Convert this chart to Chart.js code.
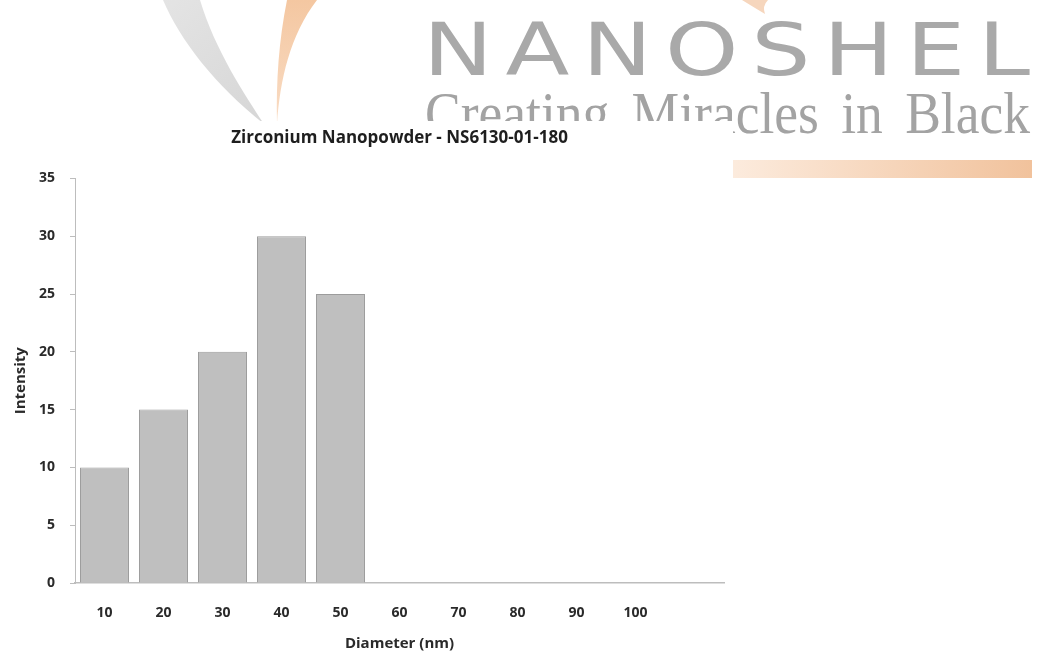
<!DOCTYPE html>
<html>
<head>
<meta charset="utf-8">
<script src="https://cdn.jsdelivr.net/npm/chart.js@4.4.1/dist/chart.umd.min.js"></script>
<style>
  body { margin: 0; background: #fff; width: 1037px; height: 655px; overflow: hidden; position: relative; }
  #deco { position: absolute; left: 0; top: 0; }
  .logo { position: absolute; white-space: nowrap; line-height: 1; transform-origin: 0 0; }
  #brand { left: 423px; top: 13px; font-family: "DejaVu Sans"; font-size: 73px; color: #a9a9a9; letter-spacing: 10px; }
  #motto { left: 425px; top: 83px; font-family: "Liberation Serif"; font-size: 60px; color: #a3a3a3; word-spacing: 10px; }
  #plot { position: absolute; left: 0; top: 121px; width: 733px; height: 534px; background: #fff; }
</style>
</head>
<body>
<canvas id="deco" width="1037" height="655"></canvas>
<div id="brand" class="logo">NANOSHEL</div>
<div id="motto" class="logo">Creating Miracles in Black</div>
<div id="plot"><canvas id="chart" width="733" height="534"></canvas></div>

<script>
// size distribution
const diameters = ['10', '20', '30', '40', '50', '60', '70', '80', '90', '100', ''];
const intensity = [10, 15, 20, 30, 25, 0, 0, 0, 0, 0, null];
const yMin = 0, yMax = 35, yStep = 5;

const chartTitle = 'Zirconium Nanopowder - NS6130-01-180';
const xTitle = 'Diameter (nm)';
const yTitle = 'Intensity';

// letterhead behind the chart
function drawDeco() {
  const c = document.getElementById('deco').getContext('2d');

  // grey swoosh
  let g = c.createLinearGradient(160, 0, 270, 120);
  g.addColorStop(0, '#e4e4e4');
  g.addColorStop(1, '#d6d6d6');
  c.fillStyle = g;
  c.beginPath();
  c.moveTo(163, 0);
  c.bezierCurveTo(180, 40, 215, 85, 264, 124);
  c.bezierCurveTo(245, 95, 215, 50, 200, 0);
  c.closePath();
  c.fill();

  // peach swoosh
  g = c.createLinearGradient(0, 0, 0, 124);
  g.addColorStop(0, '#f4c7a1');
  g.addColorStop(1, '#f9dcc4');
  c.fillStyle = g;
  c.beginPath();
  c.moveTo(287, 0);
  c.bezierCurveTo(279, 40, 276, 80, 277, 124);
  c.bezierCurveTo(280, 80, 290, 35, 317, 0);
  c.closePath();
  c.fill();

  // small arc top right
  c.fillStyle = '#f6d6bd';
  c.beginPath();
  c.moveTo(742, 0);
  c.quadraticCurveTo(755, 8, 765, 14);
  c.quadraticCurveTo(762, 6, 768, 0);
  c.closePath();
  c.fill();

  // bar under the motto
  g = c.createLinearGradient(733, 0, 1032, 0);
  g.addColorStop(0, '#fcebdd');
  g.addColorStop(1, '#f1c29c');
  c.fillStyle = g;
  c.fillRect(733, 160, 299, 18);
}

// stretch the letterhead text across its band
function fitLogo() {
  const brand = document.getElementById('brand');
  const bw = brand.getBoundingClientRect().width - 10;
  brand.style.transform = 'scaleX(' + (607 / bw) + ')';

  const motto = document.getElementById('motto');
  const mw = motto.getBoundingClientRect().width;
  motto.style.transform = 'scaleX(' + (605 / mw) + ')';
}

drawDeco();
fitLogo();

const tickFont = { family: 'Open Sans', size: 14, weight: 'bold' };
const titleFont = { family: 'Open Sans', size: 15, weight: 'bold' };

new Chart(document.getElementById('chart'), {
  type: 'bar',
  data: {
    labels: diameters,
    datasets: [{
      data: intensity,
      backgroundColor: '#bfbfbf',
      borderColor: '#9c9c9c',
      borderWidth: 1,
      categoryPercentage: 1,
      barPercentage: 0.83
    }]
  },
  options: {
    responsive: false,
    animation: false,
    layout: { padding: { left: 0, right: 9, top: 0, bottom: 0 } },
    plugins: {
      legend: { display: false },
      tooltip: { enabled: false },
      title: {
        display: true,
        text: chartTitle,
        fullSize: false,
        color: '#1e1e1e',
        font: { family: 'Open Sans', size: 17, weight: 'bold' },
        padding: { top: 7, bottom: 30 }
      }
    },
    scales: {
      x: {
        grid: { display: false, drawTicks: false },
        border: { color: '#bdbdbd', width: 1.5 },
        ticks: { padding: 22, color: '#2a2a2a', font: tickFont },
        title: {
          display: true, text: xTitle, color: '#2a2a2a',
          font: titleFont,
          padding: { top: 4, bottom: 2 }
        },
        afterFit(scale) { scale.height = 72; }
      },
      y: {
        min: yMin,
        max: yMax,
        ticks: { stepSize: yStep, padding: 15, color: '#2a2a2a', font: tickFont },
        grid: { drawOnChartArea: false, tickLength: 5, color: '#bdbdbd' },
        border: { color: '#bdbdbd' },
        title: {
          display: true, text: yTitle, color: '#2a2a2a',
          font: titleFont,
          padding: { top: 12, bottom: 4 }
        },
        afterFit(scale) { scale.width = 75; }
      }
    }
  }
});
</script>
</body>
</html>
